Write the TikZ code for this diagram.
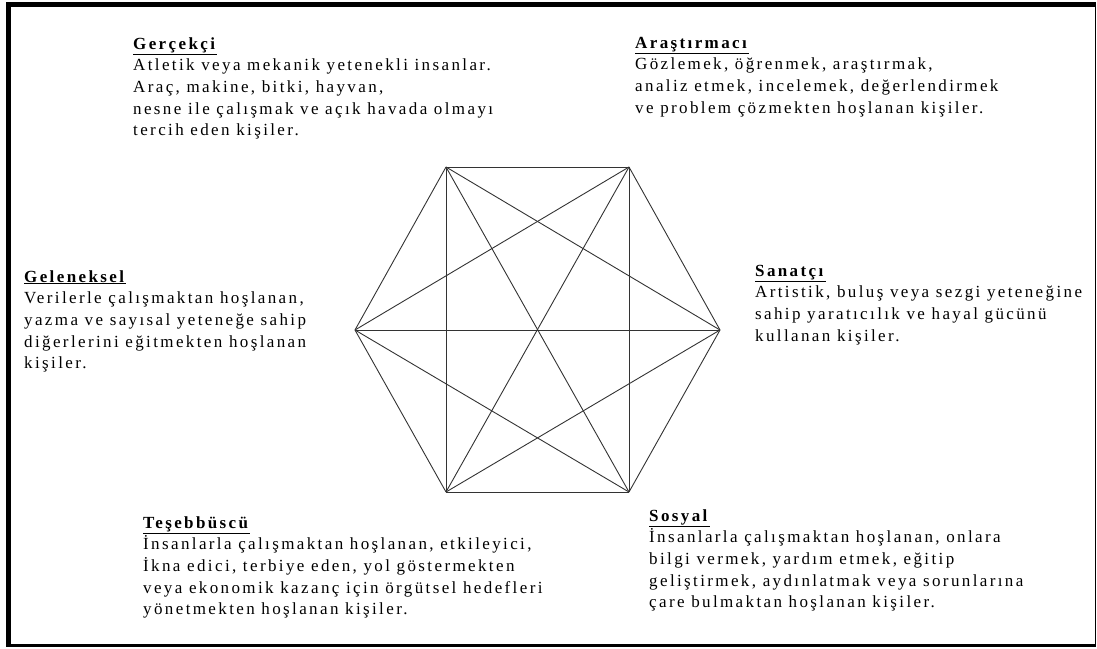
\documentclass[tikz,border=0pt]{standalone}
\usepackage{fontspec}
\setmainfont{Liberation Serif}[LetterSpace=14]
\begin{document}
\begin{tikzpicture}[x=1pt,y=-1pt,
  txt/.style={anchor=base west, align=left, inner sep=0pt, font=\fontsize{17}{21.7}\selectfont},
  edge/.style={draw=black!80, line width=0.9pt}]
\useasboundingbox (0,0) rectangle (1097,648);
% frame
\draw[line width=5pt] (8.5,2) -- (8.5,647);
\draw[line width=5pt] (6,4.5) -- (1096,4.5);
\draw[line width=1.2pt] (1095.5,4) -- (1095.5,646);
\draw[line width=3pt] (7,645) -- (1096,645);
% hexagon vertices
\coordinate (TL) at (446,167);
\coordinate (TR) at (629,167);
\coordinate (L) at (355,330);
\coordinate (R) at (720,330);
\coordinate (BL) at (446,492);
\coordinate (BR) at (629,492);
\foreach \a/\b in {TL/TR,TR/R,R/BR,BR/BL,BL/L,L/TL,TL/BL,TR/BR,L/R,TL/BR,TR/BL,TL/R,TR/L,BL/R,BR/L}
  \draw[edge] (\a) -- (\b);
% texts (anchored at the baseline of the last line)
\node[txt] (gercekci) at (133,135.8) {\underline{\textbf{Gerçekçi}}\\
Atletik veya mekanik yetenekli insanlar.\\
Araç, makine, bitki, hayvan,\\
nesne ile çalışmak ve açık havada olmayı\\
tercih eden kişiler.};
\node[txt] (arastirmaci) at (635,113.1) {\underline{\textbf{Araştırmacı}}\\
Gözlemek, öğrenmek, araştırmak,\\
analiz etmek, incelemek, değerlendirmek\\
ve problem çözmekten hoşlanan kişiler.};
\node[txt] (geleneksel) at (24,368.8) {\underline{\textbf{Geleneksel}}\\
Verilerle çalışmaktan hoşlanan,\\
yazma ve sayısal yeteneğe sahip\\
diğerlerini eğitmekten hoşlanan\\
kişiler.};
\node[txt] (sanatci) at (755,341.1) {\underline{\textbf{Sanatçı}}\\
Artistik, buluş veya sezgi yeteneğine\\
sahip yaratıcılık ve hayal gücünü\\
kullanan kişiler.};
\node[txt] (tesebbuscu) at (143,614.8) {\underline{\textbf{Teşebbüscü}}\\
İnsanlarla çalışmaktan hoşlanan, etkileyici,\\
İkna edici, terbiye eden, yol göstermekten\\
veya ekonomik kazanç için örgütsel hedefleri\\
yönetmekten hoşlanan kişiler.};
\node[txt] (sosyal) at (649,607.8) {\underline{\textbf{Sosyal}}\\
İnsanlarla çalışmaktan hoşlanan, onlara\\
bilgi vermek, yardım etmek, eğitip\\
geliştirmek, aydınlatmak veya sorunlarına\\
çare bulmaktan hoşlanan kişiler.};
\end{tikzpicture}
\end{document}
